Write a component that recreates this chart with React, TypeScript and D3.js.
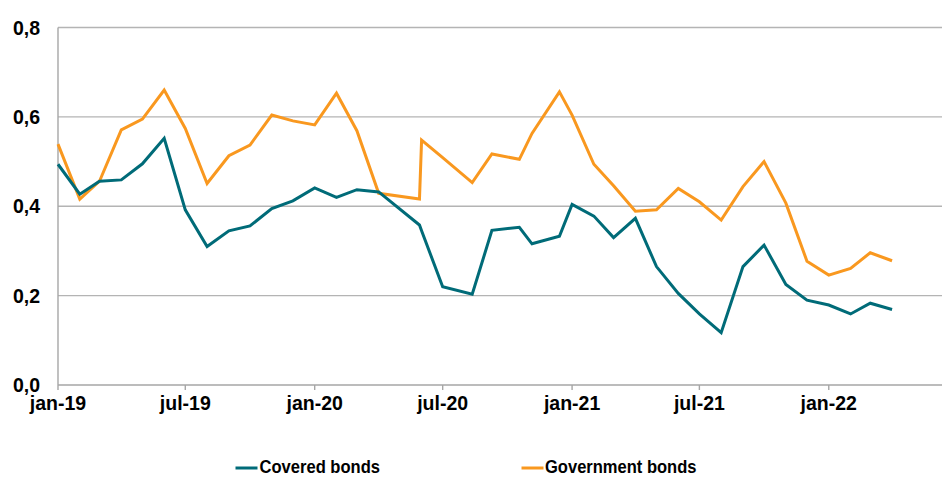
import React from "react";
import * as d3 from "d3";

const dates = [
  "2019-01-01","2019-02-01","2019-03-01","2019-04-01","2019-05-01","2019-06-01",
  "2019-07-01","2019-08-01","2019-09-01","2019-10-01","2019-11-01","2019-12-01",
  "2020-01-01","2020-02-01","2020-03-01","2020-04-01","2020-05-29","2020-06-01",
  "2020-07-01","2020-08-12","2020-09-09","2020-10-18","2020-11-05","2020-12-14",
  "2021-01-01","2021-02-01","2021-03-01","2021-04-01","2021-05-01","2021-06-01",
  "2021-07-01","2021-08-01","2021-09-01","2021-10-01","2021-11-01","2021-12-01",
  "2022-01-01","2022-02-01","2022-03-01","2022-04-01",
];

const coveredBonds = [
  0.494, 0.427, 0.456, 0.459, 0.495, 0.552,
  0.392, 0.310, 0.345, 0.356, 0.395, 0.412,
  0.441, 0.420, 0.437, 0.432, 0.358, 0.345,
  0.220, 0.203, 0.346, 0.353, 0.316, 0.333,
  0.404, 0.378, 0.330, 0.373, 0.265, 0.205,
  0.159, 0.117, 0.265, 0.313, 0.225, 0.190,
  0.179, 0.159, 0.183, 0.169,
];

const governmentBonds = [
  0.539, 0.416, 0.456, 0.571, 0.595, 0.660,
  0.574, 0.451, 0.513, 0.537, 0.604, 0.591,
  0.582, 0.653, 0.569, 0.429, 0.416, 0.548,
  0.509, 0.453, 0.517, 0.505, 0.563, 0.656,
  0.604, 0.494, 0.446, 0.389, 0.392, 0.440,
  0.410, 0.369, 0.444, 0.500, 0.407, 0.277,
  0.246, 0.261, 0.296, 0.278,
];

const xStart = "2019-01-01";
const xEnd = "2022-06-11";
const xTickDates = [
  "2019-01-01","2019-07-01","2020-01-01","2020-07-01",
  "2021-01-01","2021-07-01","2022-01-01",
];
const xTickLabels = ["jan-19","jul-19","jan-20","jul-20","jan-21","jul-21","jan-22"];
const yTicks = [0, 0.2, 0.4, 0.6, 0.8];
const seriesNames = ["Covered bonds", "Government bonds"];

const W = 944;
const H = 477;
const TEAL = "#006b78";
const ORANGE = "#f9981f";
const FONT = "Liberation Sans, Arial, sans-serif";

export default function App() {
  const parse = d3.utcParse("%Y-%m-%d");
  const x = d3.scaleUtc().domain([parse(xStart)!, parse(xEnd)!]).range([58, 942]);
  const y = d3.scaleLinear().domain([0, 0.8]).range([385, 27.5]);

  const line = d3
    .line<[Date, number]>()
    .x((d) => x(d[0]))
    .y((d) => y(d[1]));

  const cov: [Date, number][] = dates.map((d, i) => [parse(d)!, coveredBonds[i]]);
  const gov: [Date, number][] = dates.map((d, i) => [parse(d)!, governmentBonds[i]]);
  const fmt = (v: number) => v.toFixed(1).replace(".", ",");

  return (
    <svg
      width={W}
      height={H}
      style={{ position: "absolute", left: 0, top: 0, background: "#fff" }}
      fontFamily={FONT}
    >
      {yTicks.map((t) => (
        <g key={t}>
          {t > 0 && (
            <line x1={58} x2={942} y1={y(t)} y2={y(t)} stroke="#b4b4b4" strokeWidth={1.4} />
          )}
          <text
            x={40}
            y={y(t)}
            dy="0.36em"
            textAnchor="end"
            fontSize={19.5}
            fontWeight="bold"
            fill="#000"
          >
            {fmt(t)}
          </text>
        </g>
      ))}
      <line x1={58} x2={58} y1={27.5} y2={385} stroke="#a6a6a6" strokeWidth={1.4} />
      <line x1={58} x2={942} y1={385} y2={385} stroke="#a6a6a6" strokeWidth={1.4} />
      {xTickDates.map((d, i) => {
        const xx = x(parse(d)!);
        return (
          <g key={d}>
            <line x1={xx} x2={xx} y1={385} y2={390} stroke="#a6a6a6" strokeWidth={1.4} />
            <text
              x={xx}
              y={410}
              textAnchor="middle"
              fontSize={19.5}
              fontWeight="bold"
              fill="#000"
            >
              {xTickLabels[i]}
            </text>
          </g>
        );
      })}
      <path d={line(gov) || ""} fill="none" stroke={ORANGE} strokeWidth={3} strokeLinejoin="miter" />
      <path d={line(cov) || ""} fill="none" stroke={TEAL} strokeWidth={3} strokeLinejoin="miter" />

      <line x1={235.5} x2={257.5} y1={468} y2={468} stroke={TEAL} strokeWidth={3} />
      <text
        x={259.5}
        y={473}
        fontSize={19}
        fontWeight="bold"
        textLength={120.5}
        lengthAdjust="spacingAndGlyphs"
      >
        {seriesNames[0]}
      </text>
      <line x1={521.5} x2={543.5} y1={468} y2={468} stroke={ORANGE} strokeWidth={3} />
      <text
        x={545}
        y={473}
        fontSize={19}
        fontWeight="bold"
        textLength={151.5}
        lengthAdjust="spacingAndGlyphs"
      >
        {seriesNames[1]}
      </text>
    </svg>
  );
}
